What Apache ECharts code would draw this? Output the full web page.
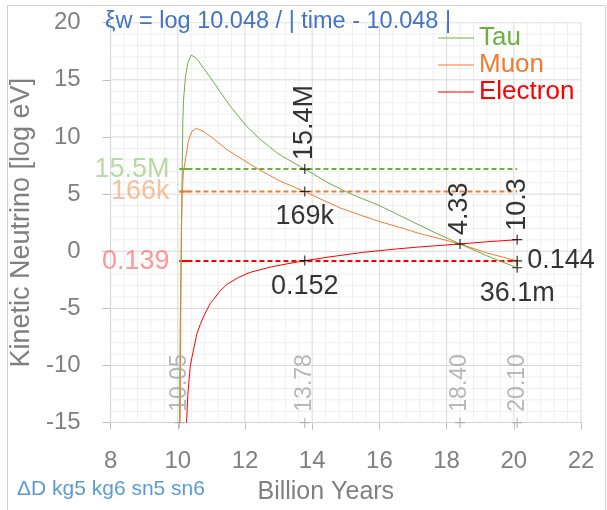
<!DOCTYPE html>
<html><head><meta charset="utf-8">
<script src="https://cdn.jsdelivr.net/npm/echarts@6/dist/echarts.min.js"></script>
<style>html,body{margin:0;padding:0;background:#fff}#c{width:607px;height:510px}</style>
</head><body><div id="c"></div>
<script>
// ---- data ----
const seriesNames = ['Tau', 'Muon', 'Electron'];
const tau = [[10.05,-15],[10.07,-7],[10.10,0],[10.13,7],[10.15,11.5],[10.17,13.2],[10.23,15.3],[10.30,16.5],[10.40,17.17],[10.55,16.9],[10.75,16.1],[10.97,15.2],[11.25,14.0],[11.56,12.7],[12.06,10.9],[12.45,9.8],[13.0,8.5],[13.78,7.19],[14.5,5.95],[15.2,4.95],[16.0,4.0],[16.8,2.85],[17.6,1.7],[18.4,0.64],[19.2,-0.4],[20.1,-1.44]];
const muon = [[10.07,-15],[10.09,-5],[10.11,2],[10.13,5],[10.17,7],[10.26,8.6],[10.32,9.7],[10.42,10.5],[10.55,10.76],[10.75,10.5],[11.0,10.0],[11.46,8.9],[12.0,7.9],[12.45,7.1],[13.0,6.2],[13.78,5.23],[14.3,4.5],[14.86,3.76],[15.5,3.1],[16.0,2.6],[16.6,2.1],[17.17,1.57],[17.8,1.1],[18.4,0.64],[19.2,-0.15],[20.1,-0.84]];
const electron = [[10.26,-15],[10.30,-12.5],[10.37,-10.1],[10.42,-9.3],[10.57,-7.2],[10.67,-6.4],[10.8,-5.5],[10.97,-4.55],[11.07,-4.2],[11.25,-3.5],[11.46,-2.9],[11.8,-2.3],[12.15,-1.85],[12.8,-1.35],[13.44,-1.0],[13.78,-0.82],[14.5,-0.5],[15.5,-0.1],[16.5,0.2],[17.2,0.38],[18.4,0.64],[19.2,0.83],[20.1,1.01]];
const refRange = [10.05, 20.1];
const refLevels = [7.19, 5.22, -0.857];
const refLabels = ['15.5M', '166k', '0.139'];
const markTimes = [10.05, 13.78, 18.40, 20.10];
const markTimeLabels = ['10.05', '13.78', '18.40', '20.10'];
const ptsAbove = [[13.78, 7.19, '15.4M'], [18.4, 0.636, '4.33'], [20.1, 1.013, '10.3']];
const ptsBelow = [[13.78, 5.23, '169k'], [13.78, -0.818, '0.152'], [20.1, -1.44, '36.1m']];
const ptsRight = [[20.1, -0.84, '0.144']];
const xTicks = [8, 22, 2];       // min, max, major step
const yTicks = [-15, 20, 5];
const minorDivisions = 5;        // minor grid divisions per major step

// ---- style ----
const colors = ['#70ad47', '#ed7d31', '#ff0000'];
const refColors = ['#70ad47', '#ed7d31', '#ff0000'];
const refTextColors = ['#a9d18e', '#f4b183', '#ff7c80'];
const FONT = 'Liberation Sans, Arial, sans-serif';
const plus = 'path://M0,4.4H10V5.6H0Z M4.4,0H5.6V10H4.4Z';
const gray = '#808080';

const series = [];

// grid lines (drawn through the axes' own scales)
const gridLines = (t, other, vertical) => {
  const n = Math.round((t[1] - t[0]) / t[2]) * minorDivisions;
  for (let k = 0; k <= n; k++) {
    const v = t[0] + k * t[2] / minorDivisions;
    const major = k % minorDivisions === 0;
    series.push({ type: 'line', silent: true, symbol: 'none', z: major ? 1 : 0,
      data: vertical ? [[v, other[0]], [v, other[1]]] : [[other[0], v], [other[1], v]],
      lineStyle: { color: major ? '#d9d9d9' : '#efefef', width: 1 } });
  }
};
gridLines(xTicks, yTicks, true);
gridLines(yTicks, xTicks, false);

[tau, muon, electron].forEach((d, i) => {
  series.push({ name: seriesNames[i], type: 'line', data: d, showSymbol: false, symbol: 'none',
    lineStyle: { color: colors[i], width: 1 }, itemStyle: { color: colors[i] }, z: 3, clip: false });
});
refLevels.forEach((v, i) => {
  series.push({ type: 'line', data: [[refRange[0], v], [refRange[1], v]], symbol: 'none',
    lineStyle: { color: refColors[i], width: 2, type: [5, 3] }, z: 2 });
  series.push({ type: 'line', data: [[refRange[0], v], [refRange[0] + 0.3, v]], symbol: 'none',
    lineStyle: { color: refColors[i], width: 2 }, z: 2 });
  series.push({ type: 'scatter', data: [[refRange[0], v]], symbolSize: 0, z: 4,
    label: { show: true, position: 'left', distance: 10, formatter: refLabels[i], color: refTextColors[i], fontSize: 27, fontFamily: FONT } });
});
series.push({ type: 'scatter', clip: false, z: 5, symbol: plus, symbolSize: 10, itemStyle: { color: '#a6a6a6' },
  data: markTimes.map((t, i) => ({ value: [t, yTicks[0]], label: { formatter: markTimeLabels[i] } })),
  label: { show: true, position: 'top', distance: 6, rotate: 90, align: 'left', verticalAlign: 'middle', color: '#a6a6a6', fontSize: 23, fontFamily: FONT } });
const lbl = { show: true, color: '#000', fontSize: 27, fontFamily: FONT };
series.push({ type: 'scatter', z: 6, symbol: plus, symbolSize: 10, itemStyle: { color: '#000' },
  data: ptsAbove.map(p => ({ value: [p[0], p[1]], label: { formatter: p[2] } })),
  label: Object.assign({ position: 'top', distance: 4, rotate: 90, align: 'left', verticalAlign: 'middle' }, lbl) });
series.push({ type: 'scatter', z: 6, symbol: plus, symbolSize: 10, itemStyle: { color: '#000' },
  data: ptsBelow.map(p => ({ value: [p[0], p[1]], label: { formatter: p[2] } })),
  label: Object.assign({ position: 'bottom', distance: 7 }, lbl) });
series.push({ type: 'scatter', z: 6, symbol: plus, symbolSize: 10, itemStyle: { color: '#000' },
  data: ptsRight.map(p => ({ value: [p[0], p[1]], label: { formatter: p[2] } })),
  label: Object.assign({ position: 'right', distance: 5 }, lbl) });

const chart = echarts.init(document.getElementById('c'), null, { renderer: 'canvas' });
chart.setOption({
  animation: false,
  backgroundColor: '#fff',
  grid: { left: 110, right: 26, top: 22.7, bottom: 87.3 },
  title: { text: 'ξw = log 10.048 / | time - 10.048 |', left: 100, top: 5,
    textStyle: { color: '#4472c4', fontSize: 23.5, fontWeight: 'normal', fontFamily: FONT } },
  legend: { orient: 'vertical', left: 433, top: 20, itemWidth: 36, itemHeight: 1.2, itemGap: 1, icon: 'rect',
    textStyle: { fontSize: 26, fontFamily: FONT },
    data: seriesNames.map((n, i) => ({ name: n, textStyle: { color: colors[i] } })) },
  xAxis: { type: 'value', min: xTicks[0], max: xTicks[1], interval: xTicks[2],
    name: 'Billion Years', nameLocation: 'middle', nameGap: 57,
    nameTextStyle: { color: gray, fontSize: 25, fontFamily: FONT, padding: [0, 40, 0, 0] },
    axisLine: { show: true, onZero: false, lineStyle: { color: '#bfbfbf' } },
    axisTick: { show: true, length: 7, lineStyle: { color: '#bfbfbf' } },
    axisLabel: { color: gray, fontSize: 24, margin: 27, fontFamily: FONT },
    splitLine: { show: false } },
  yAxis: { type: 'value', min: yTicks[0], max: yTicks[1], interval: yTicks[2],
    name: 'Kinetic Neutrino [log eV]', nameLocation: 'middle', nameGap: 64,
    nameTextStyle: { color: gray, fontSize: 27, fontFamily: FONT },
    axisLine: { show: true, lineStyle: { color: '#bfbfbf' } },
    axisTick: { show: true, length: 8, lineStyle: { color: '#bfbfbf' } },
    axisLabel: { color: gray, fontSize: 24, margin: 30, fontFamily: FONT },
    splitLine: { show: false } },
  graphic: [
    { type: 'rect', left: 5, top: 3, shape: { width: 598, height: 505 }, style: { fill: 'none', stroke: '#d0d0d0', lineWidth: 1 }, silent: true },
    { type: 'text', left: 17, top: 479, style: { text: 'ΔD kg5 kg6 sn5 sn6', fill: '#5b9bd5', font: '21px ' + FONT } }
  ],
  series: series
});
</script></body></html>
